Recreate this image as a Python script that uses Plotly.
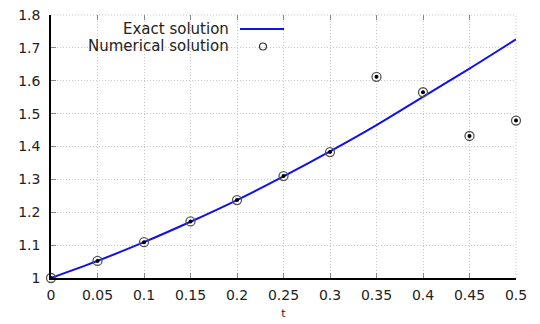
import plotly.graph_objects as go

t_vals = [0.0, 0.05, 0.1, 0.15, 0.2, 0.25, 0.3, 0.35, 0.4, 0.45, 0.5]
exact_vals = [1.0, 1.052, 1.109, 1.171, 1.237, 1.309, 1.385, 1.465, 1.551, 1.637, 1.726]
numerical_vals = [1.0, 1.052, 1.109, 1.172, 1.237, 1.310, 1.383, 1.612, 1.565, 1.432, 1.479]
x_ticks = [0, 0.05, 0.1, 0.15, 0.2, 0.25, 0.3, 0.35, 0.4, 0.45, 0.5]
x_tick_labels = ["0", "0.05", "0.1", "0.15", "0.2", "0.25", "0.3", "0.35", "0.4", "0.45", "0.5"]
y_ticks = [1, 1.1, 1.2, 1.3, 1.4, 1.5, 1.6, 1.7, 1.8]
y_tick_labels = ["1", "1.1", "1.2", "1.3", "1.4", "1.5", "1.6", "1.7", "1.8"]

FONT = "DejaVu Sans"
FS = 14
LFS = 15

# plot area in screen pixels (page has 8px body margin)
PX0, PX1, PY0, PY1 = 51, 516, 15, 278
OFF = 8

fig = go.Figure()
fig.add_trace(go.Scatter(x=t_vals, y=exact_vals, mode="lines", name="Exact solution",
                         line=dict(color="#1010f0", width=2, shape="spline"),
                         showlegend=False, cliponaxis=False))
fig.add_trace(go.Scatter(x=t_vals, y=numerical_vals, mode="markers", name="Numerical solution",
                         marker=dict(symbol="circle-open", size=9, color="#555555", line=dict(width=1.3, color="#444444")),
                         showlegend=False, cliponaxis=False))
fig.add_trace(go.Scatter(x=t_vals, y=numerical_vals, mode="markers", hoverinfo="skip",
                         marker=dict(symbol="circle", size=4, color="black"),
                         showlegend=False, cliponaxis=False))

# top mirror ticks on x axis
fig.add_trace(go.Scatter(x=[0], y=[1], xaxis="x2", mode="markers", marker=dict(opacity=0), showlegend=False, hoverinfo="skip"))

GRID = "#c8c8c8"
axis_common = dict(
    showgrid=True, gridcolor=GRID, griddash="1px,2px", gridwidth=1,
    ticks="inside", ticklen=5, tickcolor="#888888", tickwidth=1,
    zeroline=False, tickfont=dict(family=FONT, size=FS, color="#222222"),
    automargin=False, ticklabeloverflow="allow",
)
fig.update_layout(
    width=540, height=324,
    margin=dict(l=PX0 - OFF, r=540 - (PX1 - OFF), t=PY0 - OFF, b=324 - (PY1 - OFF)),
    paper_bgcolor="white", plot_bgcolor="white",
    xaxis=dict(range=[0, 0.5], tickvals=x_ticks, ticktext=x_tick_labels,
               showline=True, linecolor="black", linewidth=1.5, ticklabelstandoff=3,
               title=dict(text="t", font=dict(family=FONT, size=11, color="#222222"), standoff=8),
               **axis_common),
    xaxis2=dict(range=[0, 0.5], overlaying="x", side="top", tickvals=x_ticks, showticklabels=False,
                ticks="inside", ticklen=5, tickcolor="#888888", showgrid=False, zeroline=False, showline=False,
                automargin=False),
    yaxis=dict(range=[1, 1.8], tickvals=y_ticks, ticktext=y_tick_labels, ticklabelstandoff=6,
               showline=True, linecolor="black", linewidth=1.5, **axis_common),
    showlegend=False,
)

W = PX1 - PX0
H = PY1 - PY0
def px(x):
    return (x - PX0) / W
def py(y):
    return (PY1 - y) / H

# top and right dotted grid borders
fig.add_shape(type="line", xref="paper", yref="paper", x0=0, x1=1, y0=1, y1=1,
              line=dict(color=GRID, width=1, dash="1px,2px"), layer="below")
fig.add_shape(type="line", xref="paper", yref="paper", x0=1, x1=1, y0=0, y1=1,
              line=dict(color=GRID, width=1, dash="1px,2px"), layer="below")

# manual legend (gnuplot style: text right-aligned, sample to the right)
fig.add_annotation(xref="paper", yref="paper", x=px(231), y=py(29),
                   text="Exact solution", showarrow=False, xanchor="right", yanchor="middle",
                   font=dict(family=FONT, size=LFS, color="#222222"))
fig.add_annotation(xref="paper", yref="paper", x=px(231), y=py(46.5),
                   text="Numerical solution", showarrow=False, xanchor="right", yanchor="middle",
                   font=dict(family=FONT, size=LFS, color="#222222"))
fig.add_shape(type="line", xref="paper", yref="paper",
              x0=px(240), x1=px(284), y0=py(29), y1=py(29),
              line=dict(color="#1010f0", width=2))
fig.add_shape(type="circle", xref="paper", yref="paper",
              x0=px(263 - 3.5), x1=px(263 + 3.5), y0=py(46.5 + 3.5), y1=py(46.5 - 3.5),
              line=dict(color="#333333", width=1.2))

fig.write_html("out.html")
